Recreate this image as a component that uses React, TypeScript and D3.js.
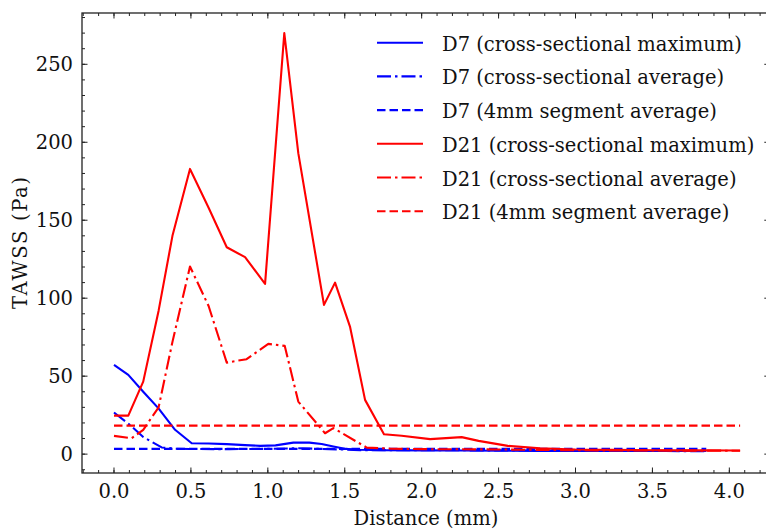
import React from "react";
import * as d3 from "d3";

const d7MaxX = [0, 0.093, 0.19, 0.288, 0.397, 0.505, 0.615, 0.733, 0.852, 0.95, 1.05, 1.166, 1.27, 1.35, 1.426, 1.5, 1.6, 1.75, 2.0, 2.25, 2.5, 2.75, 3.0, 3.25, 3.5, 3.85];
const d7MaxY = [57.2, 50.8, 40, 29.5, 15.6, 7, 6.8, 6.4, 5.8, 5.3, 5.6, 7.4, 7.4, 6.5, 4.9, 3.5, 2.8, 2.5, 2.4, 2.3, 2.2, 2.1, 2.0, 2.0, 2.0, 2.0];

const d7AvgX = [0, 0.1, 0.19, 0.31, 0.4, 0.5, 0.75, 1.0, 1.2, 1.4, 1.6, 2.0, 2.5, 3.0, 3.5, 3.85];
const d7AvgY = [26.7, 19, 11, 4.3, 3.5, 3.3, 3.2, 3.4, 3.8, 3.2, 2.6, 2.5, 2.4, 2.2, 2.0, 1.9];

const d7SegX = [0, 3.85];
const d7SegY = [3.4, 3.4];

const d21MaxX = [0, 0.093, 0.19, 0.29, 0.38, 0.494, 0.615, 0.733, 0.852, 0.982, 1.107, 1.198, 1.365, 1.437, 1.534, 1.632, 1.755, 1.87, 2.055, 2.26, 2.37, 2.56, 2.77, 3.0, 3.25, 3.5, 3.75, 4.07];
const d21MaxY = [24.7, 24.7, 46.5, 92, 140, 182.9, 158, 132.7, 126.3, 109.2, 270, 193, 95.7, 110, 81.8, 34.8, 12.8, 11.8, 9.6, 10.9, 8.5, 5.3, 3.8, 3.0, 2.7, 2.5, 2.4, 2.3];

const d21AvgX = [0, 0.115, 0.19, 0.29, 0.38, 0.494, 0.615, 0.733, 0.862, 1.003, 1.11, 1.198, 1.372, 1.426, 1.643, 1.8, 2.0, 2.5, 3.0, 3.5, 4.07];
const d21AvgY = [11.7, 10.2, 15.6, 30, 72, 120.3, 95, 58.7, 60.9, 70.7, 69.4, 33.7, 13.4, 16.7, 4.2, 3.5, 3.2, 3.0, 2.5, 2.3, 2.2];

const d21SegX = [0, 4.07];
const d21SegY = [18.3, 18.3];

const xMajor = [0, 0.5, 1.0, 1.5, 2.0, 2.5, 3.0, 3.5, 4.0];
const xMajorLabels = ["0.0", "0.5", "1.0", "1.5", "2.0", "2.5", "3.0", "3.5", "4.0"];
const yMajor = [0, 50, 100, 150, 200, 250];
const yMajorLabels = ["0", "50", "100", "150", "200", "250"];

const seriesNames = [
  "D7 (cross-sectional maximum)",
  "D7 (cross-sectional average)",
  "D7 (4mm segment average)",
  "D21 (cross-sectional maximum)",
  "D21 (cross-sectional average)",
  "D21 (4mm segment average)",
];

const BLUE = "#0000ff";
const RED = "#ff0000";
const DASH = "8.5,4";
const DASHDOT = "14,4,2.5,4";
const FONT = "DejaVu Serif";

export default function App() {
  const W = 766, H = 531;
  const left = 82, right = 769.8, top = 13, bottom = 473;
  const x = d3.scaleLinear().domain([-0.208, 4.263]).range([left, right]);
  const y = d3.scaleLinear().domain([-12.1, 282.9]).range([bottom, top]);

  const mk = (xs: number[], ys: number[]) =>
    d3.line<number>().x((_, i) => x(xs[i])).y((v) => y(v))(ys) || "";

  const series = [
    { xs: d7MaxX, ys: d7MaxY, color: BLUE, dash: undefined },
    { xs: d7AvgX, ys: d7AvgY, color: BLUE, dash: DASHDOT },
    { xs: d7SegX, ys: d7SegY, color: BLUE, dash: DASH },
    { xs: d21MaxX, ys: d21MaxY, color: RED, dash: undefined },
    { xs: d21AvgX, ys: d21AvgY, color: RED, dash: DASHDOT },
    { xs: d21SegX, ys: d21SegY, color: RED, dash: DASH },
  ];

  const xMinor = d3.range(-2, 43).map((i) => i / 10).filter((v) => x(v) >= left && x(v) <= right);
  const yMinor = d3.range(-10, 290, 10).filter((v) => y(v) >= top && y(v) <= bottom);

  const tickColor = "#222";
  const majL = 5.5, minL = 3;
  const fs = 19.5;
  const textStyle = { fontFamily: FONT, fontSize: fs };

  return (
    <svg width={W} height={H} style={{ position: "absolute", left: 0, top: 0, background: "#fff" }}>
      <rect x={0} y={0} width={W} height={H} fill="#fff" />
      <defs>
        <clipPath id="plotclip">
          <rect x={left} y={top} width={right - left} height={bottom - top} />
        </clipPath>
      </defs>
      <g clipPath="url(#plotclip)">
        {series.map((s, i) => (
          <path key={i} d={mk(s.xs, s.ys)} fill="none" stroke={s.color} strokeWidth={2.1}
            strokeDasharray={s.dash} strokeLinejoin="round" />
        ))}
      </g>
      <g stroke={tickColor} strokeWidth={1}>
        {xMinor.map((v, i) => (
          <g key={"xm" + i}>
            <line x1={x(v)} x2={x(v)} y1={bottom} y2={bottom - minL} />
            <line x1={x(v)} x2={x(v)} y1={top} y2={top + minL} />
          </g>
        ))}
        {xMajor.map((v, i) => (
          <g key={"xM" + i}>
            <line x1={x(v)} x2={x(v)} y1={bottom} y2={bottom - majL} />
            <line x1={x(v)} x2={x(v)} y1={top} y2={top + majL} />
          </g>
        ))}
        {yMinor.map((v, i) => (
          <g key={"ym" + i}>
            <line x1={left} x2={left + minL} y1={y(v)} y2={y(v)} />
            <line x1={right} x2={right - minL} y1={y(v)} y2={y(v)} />
          </g>
        ))}
        {yMajor.map((v, i) => (
          <g key={"yM" + i}>
            <line x1={left} x2={left + majL} y1={y(v)} y2={y(v)} />
            <line x1={right} x2={right - majL} y1={y(v)} y2={y(v)} />
          </g>
        ))}
      </g>
      <rect x={left} y={top} width={right - left} height={bottom - top} fill="none" stroke={tickColor} strokeWidth={1.3} />
      <g style={textStyle} fill="#111">
        {xMajor.map((v, i) => (
          <text key={"xl" + i} x={x(v)} y={497.5} textAnchor="middle">{xMajorLabels[i]}</text>
        ))}
        {yMajor.map((v, i) => (
          <text key={"yl" + i} x={73} y={y(v) + 7} textAnchor="end">{yMajorLabels[i]}</text>
        ))}
        <text x={(left + right) / 2} y={525} textAnchor="middle">Distance (mm)</text>
        <text transform={`translate(27,${(top + bottom) / 2}) rotate(-90)`} textAnchor="middle" textLength={132} lengthAdjust="spacing">TAWSS (Pa)</text>
      </g>
      <g style={textStyle} fill="#111">
        {series.map((s, i) => {
          const ly = 42.7 + i * 33.7;
          return (
            <g key={"lg" + i}>
              <line x1={377} x2={423} y1={ly} y2={ly} stroke={s.color} strokeWidth={2.1} strokeDasharray={s.dash} />
              <text x={442} y={ly + 8}>{seriesNames[i]}</text>
            </g>
          );
        })}
      </g>
    </svg>
  );
}
